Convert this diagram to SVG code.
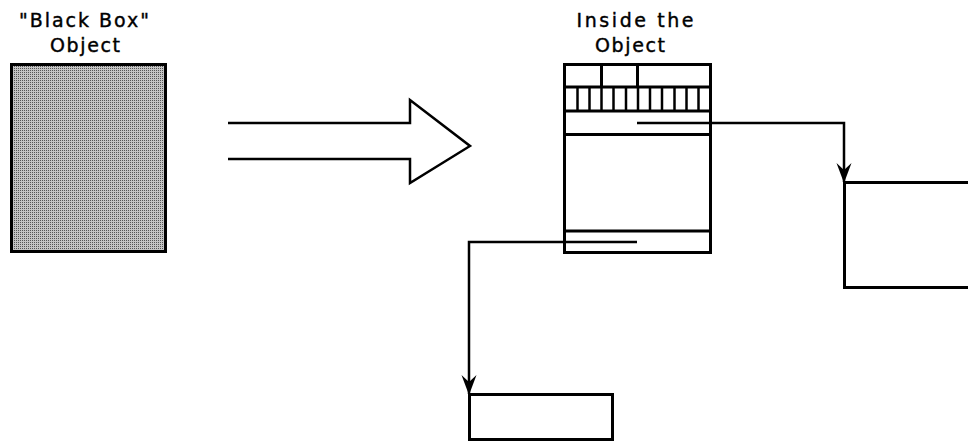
<svg xmlns="http://www.w3.org/2000/svg" width="968" height="442" viewBox="0 0 968 442">
<style>
.lbl{font-family:"DejaVu Sans","Liberation Sans",sans-serif;font-size:19px;fill:#000;stroke:#000;stroke-width:0.4;text-anchor:middle}
.box{fill:none;stroke:#000;stroke-width:3}
.thin{fill:none;stroke:#000;stroke-width:2.5}
.conn{fill:none;stroke:#000;stroke-width:2.5}
</style>
<defs>
<pattern id="dots" width="2" height="2" patternUnits="userSpaceOnUse">
<rect width="2" height="2" fill="#c4c4c4"/>
<rect width="1" height="1" fill="#555"/>
</pattern>
<marker id="arr" markerUnits="userSpaceOnUse" markerWidth="24" markerHeight="20" viewBox="-22 -10 24 20" refX="0" refY="0" orient="auto">
<path d="M1,0 L-19,-7.5 L-12,0 L-19,7.5 Z" fill="#000"/>
</marker>
</defs>
<rect width="968" height="442" fill="#fff"/>

<g id="blackbox">
<text class="lbl" x="84" y="27" textLength="130" lengthAdjust="spacing">"Black Box"</text>
<text class="lbl" x="85" y="52" textLength="70" lengthAdjust="spacing">Object</text>
<rect x="11.5" y="64.5" width="154" height="187" fill="url(#dots)" stroke="#000" stroke-width="3"/>
</g>

<g id="transform-arrow">
<path d="M228,123 H410 V100 L470,146 L410,183 V159 H228" fill="none" stroke="#000" stroke-width="2.5" stroke-linejoin="miter"/>
</g>

<g id="inside">
<text class="lbl" x="635" y="27" textLength="117" lengthAdjust="spacing">Inside the</text>
<text class="lbl" x="630" y="52" textLength="70" lengthAdjust="spacing">Object</text>
<rect class="box" x="564.5" y="64.5" width="146" height="188"/>
<line class="box" x1="564" y1="87" x2="711" y2="87"/>
<line class="box" x1="601.5" y1="64" x2="601.5" y2="87"/>
<line class="box" x1="637.5" y1="64" x2="637.5" y2="87"/>
<line class="box" x1="564" y1="111" x2="711" y2="111"/>
<g class="thin">
<line x1="577.5" y1="87" x2="577.5" y2="111"/>
<line x1="589.5" y1="87" x2="589.5" y2="111"/>
<line x1="601.5" y1="87" x2="601.5" y2="111"/>
<line x1="613.5" y1="87" x2="613.5" y2="111"/>
<line x1="626" y1="87" x2="626" y2="111"/>
<line x1="638" y1="87" x2="638" y2="111"/>
<line x1="650" y1="87" x2="650" y2="111"/>
<line x1="662" y1="87" x2="662" y2="111"/>
<line x1="674.5" y1="87" x2="674.5" y2="111"/>
<line x1="686.5" y1="87" x2="686.5" y2="111"/>
<line x1="698.5" y1="87" x2="698.5" y2="111"/>
</g>
<line class="box" x1="564" y1="134.5" x2="711" y2="134.5"/>
<line class="box" x1="564" y1="231" x2="711" y2="231"/>
</g>

<g id="right-box">
<path class="box" d="M969,182.5 H844.5 V287.5 H969"/>
</g>

<g id="bottom-box">
<rect class="box" x="469.5" y="394.5" width="143" height="45"/>
</g>

<g id="connectors">
<path class="conn" d="M637,123 H844 V182" marker-end="url(#arr)"/>
<path class="conn" d="M637,242 H469 V394" marker-end="url(#arr)"/>
</g>
</svg>
